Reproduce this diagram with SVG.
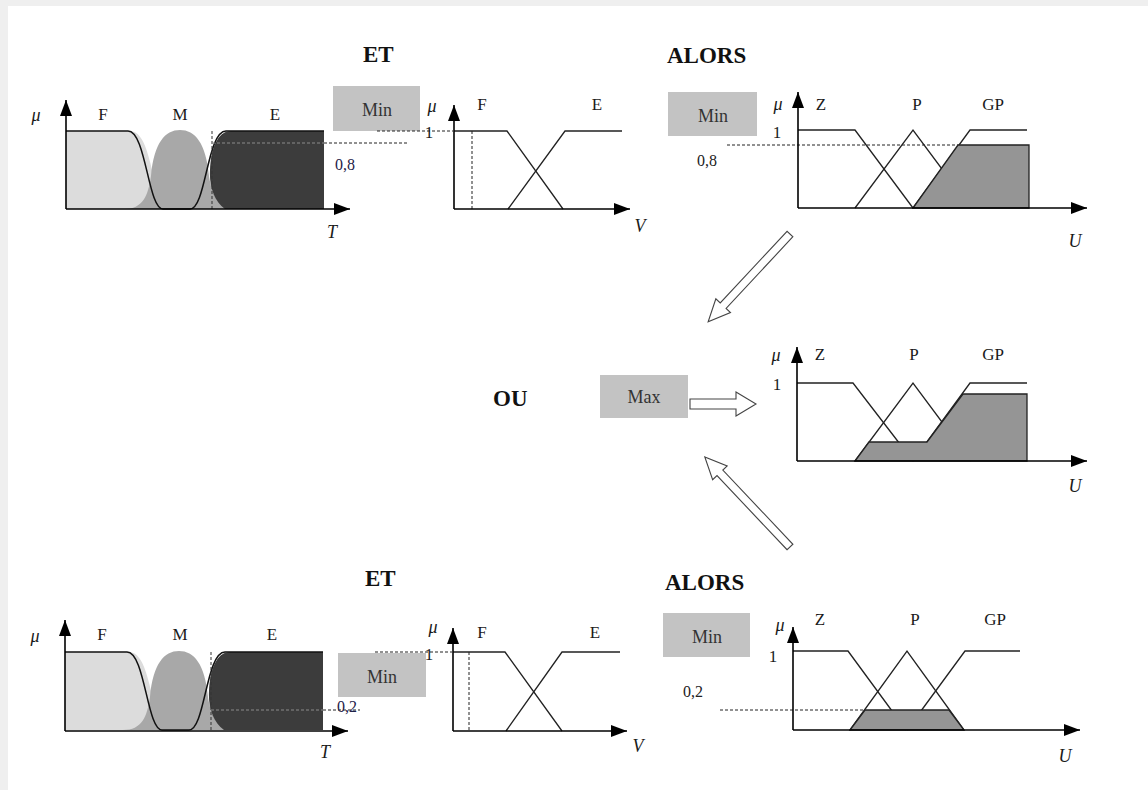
<svg xmlns="http://www.w3.org/2000/svg" xmlns:xlink="http://www.w3.org/1999/xlink" width="1148" height="790" viewBox="0 0 1148 790">
<style>
  text { font-family: "Liberation Serif", "Times New Roman", serif; fill: #1a1a1a; }
  .lbl { font-size: 17px; text-anchor: middle; }
  .mu { font-size: 18px; font-style: italic; text-anchor: middle; }
  .ax { font-size: 18px; font-style: italic; text-anchor: middle; }
  .num { font-size: 16px; fill: #1e2148; }
  .big { font-size: 23px; font-weight: bold; fill: #111; }
  .op { font-size: 18px; text-anchor: middle; fill: #333; }
  .box { fill: #c3c3c3; }
  .axis { stroke: #000; stroke-width: 1.6; fill: none; marker-end: url(#ah); }
  .mf { stroke: #222; stroke-width: 1.3; fill: none; }
  .out { fill: #959595; stroke: #222; stroke-width: 1.3; }
  .dash { stroke: #222; stroke-width: 1; stroke-dasharray: 3 2; fill: none; }
  .hollow { fill: #fff; stroke: #444; stroke-width: 1.1; }
</style>
<defs>
  <marker id="ah" markerUnits="userSpaceOnUse" markerWidth="16" markerHeight="12" refX="16" refY="6" orient="auto">
    <path d="M0,0 L16,6 L0,12 Z" fill="#000"/>
  </marker>
  <g id="tsets">
    <path d="M66,131 H130 C146,131 150,165 156,185 C159,198 161,209 166,209 H66 Z" fill="#dcdcdc"/>
    <path d="M124,209 C143,209 148,196 151,176 C154,143 165,130 180,130 C195,130 206,143 209,176 C212,196 219,209 238,209 Z" fill="#a8a8a8"/>
    <path d="M231,131 H324 V209 H225 C214,201 209,186 210,170 C211,150 217,131 231,131 Z" fill="#3c3c3c"/>
    <path d="M66,131 H128 C146,131 148,209 163,209 H190 C206,209 207,131 226,131 H324" stroke="#111" stroke-width="1.5" fill="none"/>
    <line x1="212" y1="131" x2="212" y2="209" stroke="#333" stroke-width="1" stroke-dasharray="3 2"/>
  </g>
  <path id="harrow" d="M0,-5 H46 V-12 L66,0 L46,12 V5 H0 Z"/>
</defs>

<rect x="0" y="0" width="1148" height="790" fill="#efefef"/>
<rect x="8" y="6" width="1140" height="784" fill="#ffffff"/>

<!-- Rule 1 -->
<g id="rule1-temperature">
  <use xlink:href="#tsets"/>
  <line x1="212" y1="143" x2="324" y2="143" stroke="#8a8a8a" stroke-width="1" stroke-dasharray="3 2"/>
  <line x1="324" y1="143" x2="407" y2="143" class="dash"/>
  <line x1="66" y1="209" x2="66" y2="100" class="axis"/>
  <line x1="66" y1="209" x2="350" y2="209" class="axis"/>
  <text x="36" y="121" class="mu">μ</text>
  <text x="103" y="120" class="lbl">F</text>
  <text x="180" y="120" class="lbl">M</text>
  <text x="275" y="120" class="lbl">E</text>
  <text x="332" y="238" class="ax">T</text>
  <text x="335" y="170" class="num">0,8</text>
</g>

<g id="rule1-et">
  <text x="363" y="62" class="big">ET</text>
</g>

<g id="rule1-min">
  <rect x="333" y="86" width="87" height="45" class="box"/>
  <text x="377" y="116" class="op">Min</text>
  <line x1="377" y1="131" x2="453" y2="131" class="dash"/>
</g>

<g id="rule1-v">
  <path d="M454,131 H507 L563,209" class="mf"/>
  <path d="M508,209 L565,131 H622" class="mf"/>
  <line x1="472" y1="131" x2="472" y2="209" class="dash"/>
  <line x1="454" y1="209" x2="454" y2="105" class="axis"/>
  <line x1="454" y1="209" x2="630" y2="209" class="axis"/>
  <text x="432" y="112" class="mu">μ</text>
  <text x="429" y="138" class="lbl">1</text>
  <text x="482" y="110" class="lbl">F</text>
  <text x="597" y="110" class="lbl">E</text>
  <text x="640" y="232" class="ax">V</text>
</g>

<g id="rule1-alors">
  <text x="667" y="63" class="big">ALORS</text>
</g>

<g id="rule1-min-out">
  <rect x="668" y="92" width="89" height="44" class="box"/>
  <text x="713" y="122" class="op">Min</text>
</g>

<g id="rule1-u">
  <path d="M798,130 H855 L913,208" class="mf"/>
  <path d="M855,208 L913,130 L971,208" class="mf"/>
  <path d="M913,208 L970,130 H1027" class="mf"/>
  <path d="M913,208 L958,145 H1029 V208 Z" class="out"/>
  <line x1="727" y1="145" x2="958" y2="145" class="dash"/>
  <line x1="798" y1="208" x2="798" y2="92" class="axis"/>
  <line x1="798" y1="208" x2="1087" y2="208" class="axis"/>
  <text x="778" y="110" class="mu">μ</text>
  <text x="821" y="110" class="lbl">Z</text>
  <text x="917" y="110" class="lbl">P</text>
  <text x="993" y="110" class="lbl">GP</text>
  <text x="777" y="138" class="lbl">1</text>
  <text x="697" y="166" class="num" style="fill:#222">0,8</text>
  <text x="1075" y="247" class="ax">U</text>
</g>

<!-- Aggregation -->
<g id="ou">
  <text x="493" y="406" class="big">OU</text>
</g>

<g id="max">
  <rect x="600" y="375" width="88" height="43" class="box"/>
  <text x="644" y="403" class="op">Max</text>
</g>

<g id="result-u">
  <path d="M797,383 H853 L913,461" class="mf"/>
  <path d="M855,461 L913,383 L971,461" class="mf"/>
  <path d="M913,461 L970,383 H1027" class="mf"/>
  <path d="M855,461 L869,442 H927 L963,394 H1027 V461 Z" class="out"/>
  <line x1="797" y1="461" x2="797" y2="347" class="axis"/>
  <line x1="797" y1="461" x2="1087" y2="461" class="axis"/>
  <text x="776" y="361" class="mu">μ</text>
  <text x="820" y="360" class="lbl">Z</text>
  <text x="914" y="360" class="lbl">P</text>
  <text x="993" y="360" class="lbl">GP</text>
  <text x="777" y="390" class="lbl">1</text>
  <text x="1075" y="492" class="ax">U</text>
</g>

<!-- Rule 2 -->
<g id="rule2-temperature">
  <use xlink:href="#tsets" transform="translate(-1,521)"/>
  <line x1="211" y1="710" x2="323" y2="710" stroke="#8a8a8a" stroke-width="1" stroke-dasharray="3 2"/>
  <line x1="323" y1="710" x2="360" y2="710" class="dash"/>
  <line x1="65" y1="731" x2="65" y2="620" class="axis"/>
  <line x1="65" y1="731" x2="348" y2="731" class="axis"/>
  <text x="35" y="642" class="mu">μ</text>
  <text x="102" y="640" class="lbl">F</text>
  <text x="180" y="640" class="lbl">M</text>
  <text x="272" y="640" class="lbl">E</text>
  <text x="325" y="758" class="ax">T</text>
  <text x="337" y="712" class="num">0,2</text>
</g>

<g id="rule2-et">
  <text x="365" y="586" class="big">ET</text>
</g>

<g id="rule2-min">
  <rect x="338" y="653" width="88" height="44" class="box"/>
  <text x="382" y="683" class="op">Min</text>
  <line x1="375" y1="652" x2="452" y2="652" class="dash"/>
</g>

<g id="rule2-v">
  <path d="M453,652 H505 L562,731" class="mf"/>
  <path d="M506,731 L562,652 H620" class="mf"/>
  <line x1="469" y1="652" x2="469" y2="731" class="dash"/>
  <line x1="453" y1="731" x2="453" y2="628" class="axis"/>
  <line x1="453" y1="731" x2="627" y2="731" class="axis"/>
  <text x="433" y="633" class="mu">μ</text>
  <text x="429" y="660" class="lbl">1</text>
  <text x="482" y="638" class="lbl">F</text>
  <text x="595" y="638" class="lbl">E</text>
  <text x="638" y="752" class="ax">V</text>
</g>

<g id="rule2-alors">
  <text x="665" y="590" class="big">ALORS</text>
</g>

<g id="rule2-min-out">
  <rect x="663" y="613" width="87" height="44" class="box"/>
  <text x="707" y="643" class="op">Min</text>
</g>

<g id="rule2-u">
  <path d="M793,651 H848 L906,730" class="mf"/>
  <path d="M850,730 L907,651 L964,730" class="mf"/>
  <path d="M907,730 L965,651 H1020" class="mf"/>
  <path d="M850,730 L865,710 H949 L964,730 Z" class="out"/>
  <line x1="720" y1="710" x2="865" y2="710" class="dash"/>
  <line x1="793" y1="730" x2="793" y2="627" class="axis"/>
  <line x1="793" y1="730" x2="1080" y2="730" class="axis"/>
  <text x="780" y="631" class="mu">μ</text>
  <text x="820" y="625" class="lbl">Z</text>
  <text x="915" y="625" class="lbl">P</text>
  <text x="995" y="625" class="lbl">GP</text>
  <text x="773" y="662" class="lbl">1</text>
  <text x="693" y="697" class="num" style="fill:#222;text-anchor:middle">0,2</text>
  <text x="1065" y="762" class="ax">U</text>
</g>

<!-- Connectors -->
<g id="connectors">
  <path d="M0,-4 H98 V-10 L120,0 L98,10 V4 H0 Z" class="hollow" transform="translate(790,234) rotate(133)"/>
  <use xlink:href="#harrow" class="hollow" transform="translate(690,404)"/>
  <path d="M0,-4 H102 V-10 L124,0 L102,10 V4 H0 Z" class="hollow" transform="translate(790,547) rotate(226.6)"/>
</g>
</svg>
